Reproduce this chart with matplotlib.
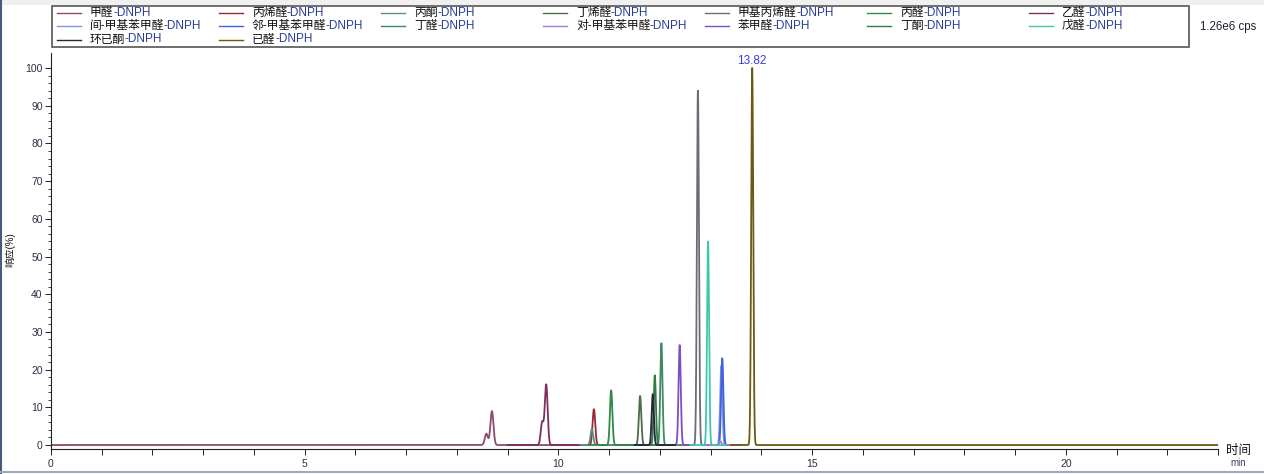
import numpy as np
import matplotlib.pyplot as plt
from matplotlib.lines import Line2D
from matplotlib.patches import Rectangle

plt.rcParams['font.family'] = ['Liberation Sans', 'Noto Sans CJK SC', 'DejaVu Sans']

# legend order (row by row, 7 per row)
compounds = ['甲醛', '丙烯醛', '丙酮', '丁烯醛', '甲基丙烯醛', '丙醛', '乙醛',
             '间-甲基苯甲醛', '邻-甲基苯甲醛', '丁醛', '对-甲基苯甲醛', '苯甲醛', '丁酮', '戊醛',
             '环已酮', '已醛']
line_colors = ['#8e4a6c', '#9a2838', '#5a9080', '#4e6a48', '#6c6c78', '#2f8a45', '#7e2e5e',
               '#8098e0', '#3f62e0', '#3f8a5e', '#a878e0', '#7d4ec6', '#2f7d40', '#3cc8b0',
               '#26283a', '#6b5a14']

# peaks: retention time (min), height (%), width (sigma, min)
peak_rt = [[8.58, 8.69], [10.70], [10.66], [11.61], [12.75], [11.04], [9.68, 9.76],
           [13.21], [13.23], [12.03], [13.19], [12.39], [11.90], [12.95],
           [11.86], [13.82]]
peak_height = [[3.0, 9.0], [9.5], [4.3], [13.0], [94.0], [14.5], [6.0, 16.0],
               [21.0], [23.0], [27.0], [1.0], [26.5], [18.5], [54.0],
               [13.5], [100.0]]
peak_sigma = [0.03, 0.026, 0.026, 0.024, 0.02, 0.024, 0.028,
              0.022, 0.022, 0.022, 0.022, 0.022, 0.022, 0.02,
              0.022, 0.02]
# time window each trace was recorded over
seg_start = [0.0, 10.2, 10.3, 11.2, 12.4, 10.6, 9.0, 12.9, 12.9, 11.6, 12.9, 12.0, 11.5, 12.6, 11.5, 13.4]
seg_end = [10.4, 11.2, 11.2, 12.3, 13.1, 11.5, 10.4, 13.6, 13.6, 12.4, 13.6, 12.7, 12.3, 13.3, 12.3, 23.0]

x_ticks = np.arange(0, 24, 1)
x_labels = ['0', '', '', '', '', '5', '', '', '', '', '10', '', '', '', '', '15',
            '', '', '', '', '20', '', '', '']
y_ticks = np.arange(0, 101, 10)

W, H = 1264, 474
fig = plt.figure(figsize=(W / 100, H / 100), dpi=100)
ax = fig.add_axes([51 / W, 1 - 449 / H, (1218 - 51) / W, (449 - 53) / H])

for i, name in enumerate(compounds):
    t = np.arange(seg_start[i], seg_end[i], 0.002)
    y = np.zeros_like(t)
    for rt, h in zip(peak_rt[i], peak_height[i]):
        y += h * np.exp(-0.5 * ((t - rt) / peak_sigma[i]) ** 2)
    ax.plot(t, y, color=line_colors[i], lw=1.3)

# label the biggest peak
top = int(np.argmax([max(h) for h in peak_height]))
top_rt = peak_rt[top][int(np.argmax(peak_height[top]))]
ax.annotate(f'{top_rt:.2f}', xy=(top_rt, max(peak_height[top])), xytext=(0, 1),
            textcoords='offset points', ha='center', va='bottom',
            color='#3a3ae8', fontsize=8.5, annotation_clip=False)

ax.set_xlim(0, 23)
ax.set_ylim(-1.06, 104)
for s in ['top', 'right']:
    ax.spines[s].set_visible(False)
for s in ['left', 'bottom']:
    ax.spines[s].set_color('#222222')
    ax.spines[s].set_linewidth(0.8)
ax.set_xticks(x_ticks)
ax.set_xticklabels(x_labels)
ax.set_yticks(y_ticks)
ax.set_yticks(np.arange(0, 101, 2), minor=True)
ax.tick_params(axis='both', which='major', length=4, width=0.7, colors='#222222',
               labelsize=7.5, labelcolor='#2e2e48', pad=2)
ax.tick_params(axis='x', which='major', pad=3.5)
ax.tick_params(axis='y', which='minor', length=2.5, width=0.6, colors='#222222')

fig.text(10 / W, 1 - 250 / H, '响应(%)', rotation=90, ha='center', va='center',
         fontsize=7, color='#111111')
fig.text(1226 / W, 1 - 451 / H, '时间', ha='left', va='center', fontsize=9, color='#111111')
fig.text(1230 / W, 1 - 463 / H, 'min', ha='left', va='center', fontsize=7, color='#4a3a6a')
fig.text(1200 / W, 1 - 27 / H, '1.26e6 cps', ha='left', va='center', fontsize=8.3, color='#202030')

# legend box drawn by hand so columns line up like the original
fig.patches.append(Rectangle((0, 1 - 5 / H), 1, 5 / H, transform=fig.transFigure,
                             facecolor='#f0f0f0', edgecolor='none'))
fig.patches.append(Rectangle((52 / W, 1 - 47 / H), (1189 - 52) / W, (47 - 6) / H,
                             transform=fig.transFigure, facecolor='white',
                             edgecolor='#555555', lw=1.2))
row_y = [13, 26, 39.5]
for i, name in enumerate(compounds):
    r, c = divmod(i, 7)
    tx = 90 + 162 * c
    yy = 1 - row_y[r] / H
    fig.add_artist(Line2D([(tx - 33) / W, (tx - 9) / W], [yy, yy], transform=fig.transFigure,
                          color=line_colors[i], lw=1.0))
    t1 = fig.text(tx / W, yy, name, ha='left', va='center', fontsize=8.5, color='#111111')
    fig.add_artist(plt.Annotation('-DNPH', xy=(1, 0.5), xycoords=t1, xytext=(-0.3, 0),
                                  textcoords='offset points', ha='left', va='center',
                                  fontsize=8.5, color='#2a3c9a'))

# window frame edges
fig.add_artist(Line2D([1 / W, 1 / W], [0, 1], transform=fig.transFigure, color='#4a5a7a', lw=1.5))
fig.add_artist(Line2D([0, 1], [2 / H, 2 / H], transform=fig.transFigure, color='#a0a8c0', lw=1.5))

fig.savefig('out.png', dpi=100)
